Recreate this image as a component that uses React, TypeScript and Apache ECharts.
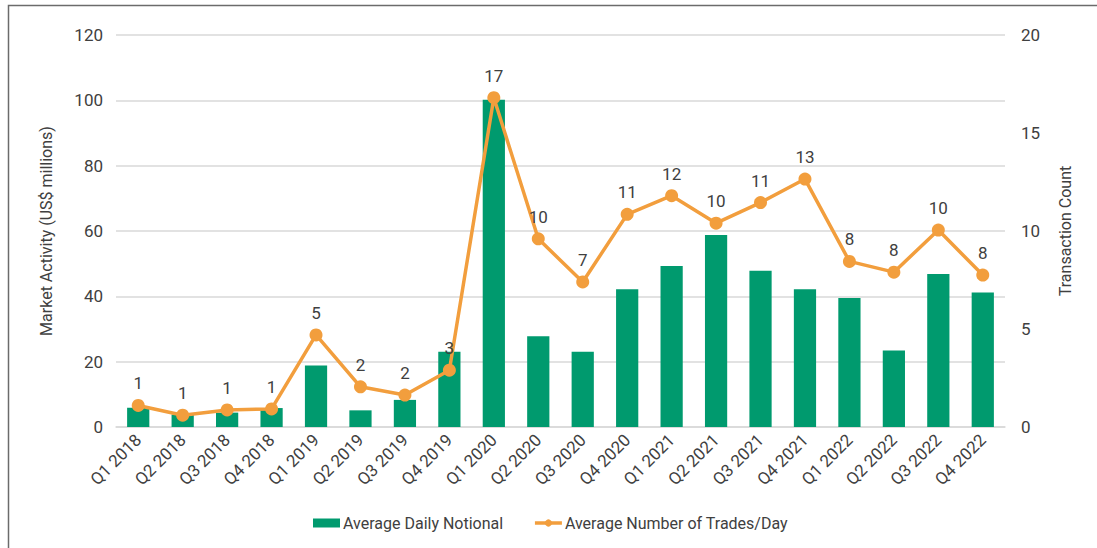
import React, { useEffect, useRef } from "react";
import * as echarts from "echarts";

const categories = [
  "Q1 2018", "Q2 2018", "Q3 2018", "Q4 2018",
  "Q1 2019", "Q2 2019", "Q3 2019", "Q4 2019",
  "Q1 2020", "Q2 2020", "Q3 2020", "Q4 2020",
  "Q1 2021", "Q2 2021", "Q3 2021", "Q4 2021",
  "Q1 2022", "Q2 2022", "Q3 2022", "Q4 2022",
];
const avgDailyNotional = [
  5.9, 3.8, 4.4, 5.8, 18.8, 5.1, 8.3, 23.0,
  100.2, 27.8, 23.0, 42.2, 49.3, 58.8, 47.8, 42.2,
  39.5, 23.4, 46.8, 41.2,
];
const avgTradesPerDay = [
  1.1, 0.6, 0.87, 0.92, 4.7, 2.05, 1.63, 2.9,
  16.8, 9.6, 7.4, 10.85, 11.8, 10.4, 11.45, 12.65,
  8.45, 7.9, 10.05, 7.75,
];

const FONT = "Roboto, 'Liberation Sans', sans-serif";
const TEXT = "#404040";

export default function App() {
  const ref = useRef<HTMLDivElement>(null);
  useEffect(() => {
    document.body.style.margin = "0";
    const chart = echarts.init(ref.current!, null, { renderer: "svg" });
    chart.setOption({
      animation: false,
      textStyle: { fontFamily: FONT, color: TEXT },
      graphic: [
        {
          type: "rect",
          shape: { x: 8.5, y: 5.5, width: 1200, height: 700 },
          style: { fill: "none", stroke: "#6b6b6b", lineWidth: 1.5 },
          silent: true,
        },
      ],
      grid: { left: 116, right: 92, top: 35, bottom: 121, containLabel: false },
      legend: {
        bottom: 12,
        left: 308,
        itemGap: 30,
        itemWidth: 27,
        itemHeight: 9,
        textStyle: { fontFamily: FONT, color: TEXT, fontSize: 16, padding: [0, 0, 0, -2] },
        data: [
          { name: "Average Daily Notional", icon: "rect" },
          { name: "Average Number of Trades/Day", lineStyle: { width: 3.5 } },
        ],
      },
      xAxis: {
        type: "category",
        data: categories,
        axisTick: { show: false },
        axisLine: { show: true, lineStyle: { color: "#d9d9d9", width: 1.5 } },
        axisLabel: {
          rotate: 45,
          interval: 0,
          color: TEXT,
          fontSize: 17,
          fontFamily: FONT,
          margin: 10,
        },
      },
      yAxis: [
        {
          type: "value",
          min: 0,
          max: 120,
          interval: 20,
          name: "Market Activity (US$ millions)",
          nameLocation: "middle",
          nameGap: 62,
          nameTextStyle: { color: TEXT, fontSize: 16, fontFamily: FONT },
          axisLabel: { color: TEXT, fontSize: 17, fontFamily: FONT, margin: 13 },
          axisLine: { show: false },
          axisTick: { show: false },
          splitLine: { lineStyle: { color: "#d9d9d9", width: 1.5 } },
        },
        {
          type: "value",
          min: 0,
          max: 20,
          interval: 5,
          name: "Transaction Count",
          nameLocation: "middle",
          nameGap: 52,
          nameTextStyle: { color: TEXT, fontSize: 16, fontFamily: FONT },
          axisLabel: { color: TEXT, fontSize: 17, fontFamily: FONT, margin: 16 },
          axisLine: { show: false },
          axisTick: { show: false },
          splitLine: { show: false },
        },
      ],
      series: [
        {
          name: "Average Daily Notional",
          type: "bar",
          data: avgDailyNotional,
          barWidth: "50%",
          itemStyle: { color: "#009a6e" },
          yAxisIndex: 0,
        },
        {
          name: "Average Number of Trades/Day",
          type: "line",
          data: avgTradesPerDay,
          yAxisIndex: 1,
          symbol: "circle",
          symbolSize: 13,
          lineStyle: { color: "#f29e3d", width: 3.5 },
          itemStyle: { color: "#f29e3d" },
          label: {
            show: true,
            position: "top",
            distance: 7,
            color: TEXT,
            fontSize: 17,
            fontFamily: FONT,
            formatter: (p: any) => String(Math.round(p.value)),
          },
        },
      ],
    });
    return () => chart.dispose();
  }, []);
  return <div ref={ref} style={{ width: 1097, height: 548 }} />;
}
